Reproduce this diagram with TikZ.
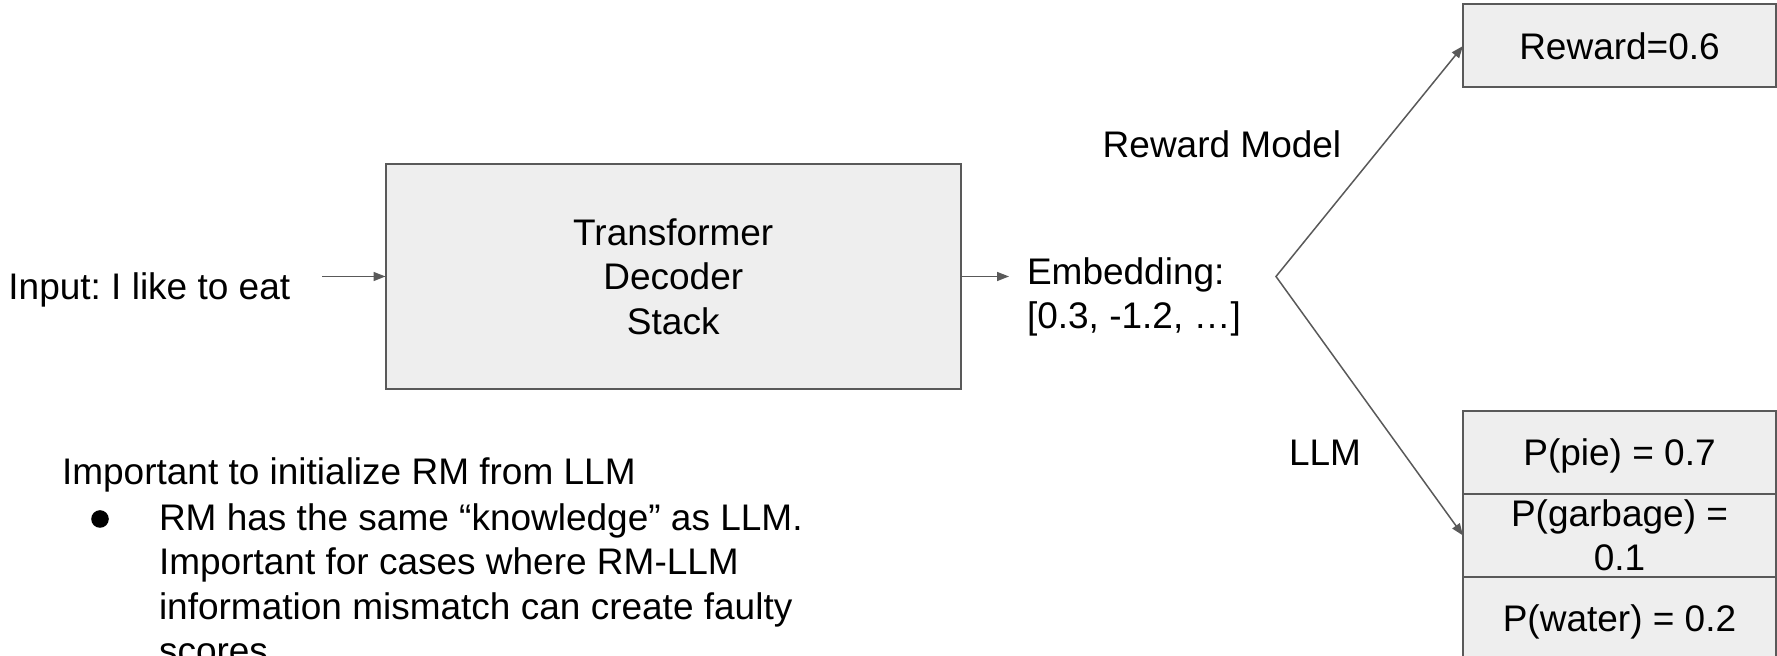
\documentclass[tikz,border=0pt]{standalone}
\usepackage{fontspec}
\setmainfont{Liberation Sans}
\usetikzlibrary{arrows.meta}
\definecolor{linegray}{HTML}{595959}
\definecolor{boxfill}{HTML}{EEEEEE}
\frenchspacing
\begin{document}
\begin{tikzpicture}[x=0.5pt,y=-0.5pt,
  every node/.style={font=\fontsize{18.5pt}{22.25pt}\selectfont\frenchspacing, inner sep=0pt, outer sep=0pt},
  box/.style={draw=linegray, fill=boxfill, line width=1pt, align=center},
  cell/.style={box, minimum width=156.5pt, minimum height=41.5pt},
  oneline/.style={text height=13.25pt, text depth=0pt},
  conn/.style={draw=linegray, line width=0.75pt, -{Triangle[length=6pt,width=4.5pt]}},
  forkline/.style={draw=linegray, line width=0.75pt, line join=miter,
    {Triangle[length=6pt,width=4.5pt]}-{Triangle[length=6pt,width=4.5pt]}},
  bulletdot/.style={circle, fill=black, minimum size=8.8pt}]
\useasboundingbox (0,0) rectangle (1777,656);
\clip (0,0) rectangle (1777,656);

% left part
\node[anchor=base west] (inp) at (8.4,299.5) {Input: I like to eat};
\node[box, minimum width=287.75pt, minimum height=112.5pt] (tds) at (673.25,276.5) {Transformer\\Decoder\\Stack};
\node[anchor=north west, align=left] (emb) at (1027,257.5) {Embedding:\\{}[0.3, -1.2, …]};

\draw[conn, shorten <=16pt] (inp.east |- tds.west) -- (tds.west);
\draw[conn, shorten >=9pt] (tds.east) -- (tds.east -| emb.west);

% right part
\node[cell, oneline] (rew) at (1619.5,46) {Reward=0.6};
\node[cell, oneline] (p1) at (1619.5,452.5) {P(pie) = 0.7};
\node[cell, anchor=north] (p2) at (p1.south) {P(garbage) =\\0.1};
\node[cell, oneline, anchor=north] (p3) at (p2.south) {P(water) = 0.2};

\coordinate (fork) at (1276,276.5);
\draw[forkline] (rew.west) -- (fork) -- (p2.west);

\node[anchor=base] (rmlab) at (1222,158) {Reward Model};
\node[anchor=base] (llmlab) at (1325,466) {LLM};

% bottom text
\node[anchor=base west] (imp) at (62,485) {Important to initialize RM from LLM};
\node[bulletdot] (bul) at (100,519) {};
\node[anchor=north west, align=left] (bt) at (159,503.5) {RM has the same “knowledge” as LLM.\\Important for cases where RM-LLM\\information mismatch can create faulty\\scores};
\end{tikzpicture}
\end{document}
